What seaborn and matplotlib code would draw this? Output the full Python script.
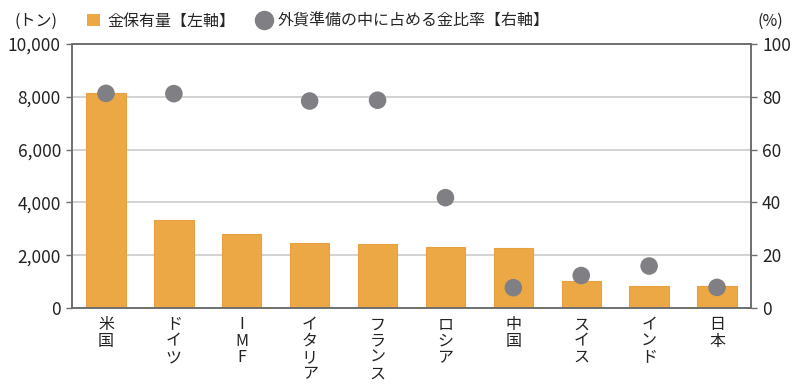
import pandas as pd
import seaborn as sns
import matplotlib.pyplot as plt
from matplotlib.lines import Line2D
from matplotlib.patches import Patch
from matplotlib.ticker import FuncFormatter, FixedLocator

# data
countries = ["米国", "ドイツ", "IMF", "イタリア", "フランス", "ロシア", "中国", "スイス", "インド", "日本"]
gold_tons = [8133, 3352, 2814, 2452, 2436, 2310, 2275, 1040, 850, 846]
gold_share = [81.3, 81.2, 78.4, 78.7, 41.8, 7.7, 12.3, 15.9, 7.8]
share_countries = ["米国", "ドイツ", "イタリア", "フランス", "ロシア", "中国", "スイス", "インド", "日本"]

tick_labels = ["米\n国", "ド\nイ\nツ", "I\nM\nF", "イ\nタ\nリ\nア", "フ\nラ\nン\nス",
               "ロ\nシ\nア", "中\n国", "ス\nイ\nス", "イ\nン\nド", "日\n本"]

bar_color = "#EDA846"
dot_color = "#7F7F84"
axis_color = "#6E6E6E"

sns.set_style("white")
plt.rcParams["font.family"] = ["Noto Sans CJK JP", "DejaVu Sans"]

df_bar = pd.DataFrame({"country": countries, "tons": gold_tons})
df_dot = pd.DataFrame({"country": share_countries, "share": gold_share})

fig = plt.figure(figsize=(7.95, 3.85), dpi=100)
ax = fig.add_axes([0.0906, 0.2, 0.854, 0.6857])

sns.barplot(data=df_bar, x="country", y="tons", order=countries, color=bar_color,
            width=0.58, edgecolor="#E8A040", linewidth=0.8, saturation=1, ax=ax, zorder=2)
ax.set_ylim(0, 10000)
ax.set_xlim(-0.5, len(countries) - 0.5)
ax.set_yticks(range(0, 10001, 2000))
ax.yaxis.set_major_formatter(FuncFormatter(lambda v, p: f"{int(v):,}"))
ax.grid(axis="y", color="#CBCBCB", linewidth=1.2, zorder=0)
ax.set_axisbelow(True)
ax.set_xlabel("")
ax.set_ylabel("")
ax.set_xticks(range(len(countries)))
ax.set_xticklabels(tick_labels, fontsize=11.5, linespacing=0.95, va="top")
ax.tick_params(axis="x", length=0, pad=6, colors="#222222")
ax.tick_params(axis="y", length=4, width=1, color=axis_color, labelsize=12.5,
               labelcolor="#222222", pad=4)
ax.xaxis.set_minor_locator(FixedLocator([i + 0.5 for i in range(len(countries) - 1)]))
ax.tick_params(axis="x", which="minor", direction="in", length=4, color="#DDDDDD")
for s in ax.spines.values():
    s.set_color(axis_color)
    s.set_linewidth(1.2)

ax2 = ax.twinx()
sns.scatterplot(data=df_dot, x="country", y="share", color=dot_color, s=160,
                edgecolor="none", ax=ax2, zorder=3)
ax2.set_xlim(-0.5, len(countries) - 0.5)
ax2.set_ylim(0, 100)
ax2.set_yticks(range(0, 101, 20))
ax2.set_ylabel("")
ax2.set_xlabel("")
ax2.tick_params(axis="y", length=4, width=1, color=axis_color, labelsize=12.5,
                labelcolor="#222222", pad=4)
for s in ax2.spines.values():
    s.set_color(axis_color)
    s.set_linewidth(1.2)

fig.text(0.018, 0.945, "(トン)", fontsize=11.5, color="#222222", va="center")
fig.text(0.953, 0.945, "(%)", fontsize=11.5, color="#222222", va="center")

handles = [
    Patch(facecolor=bar_color, edgecolor="none", label="金保有量【左軸】"),
    Line2D([], [], marker="o", linestyle="none", markersize=13, color=dot_color,
           label="外貨準備の中に占める金比率【右軸】"),
]
fig.legend(handles=handles, loc="center left", bbox_to_anchor=(0.102, 0.945), ncol=2,
           frameon=False, fontsize=11.5, handlelength=0.8, handleheight=0.8,
           handletextpad=0.45, columnspacing=1.4, borderaxespad=0)

fig.savefig("out.png", dpi=100)
